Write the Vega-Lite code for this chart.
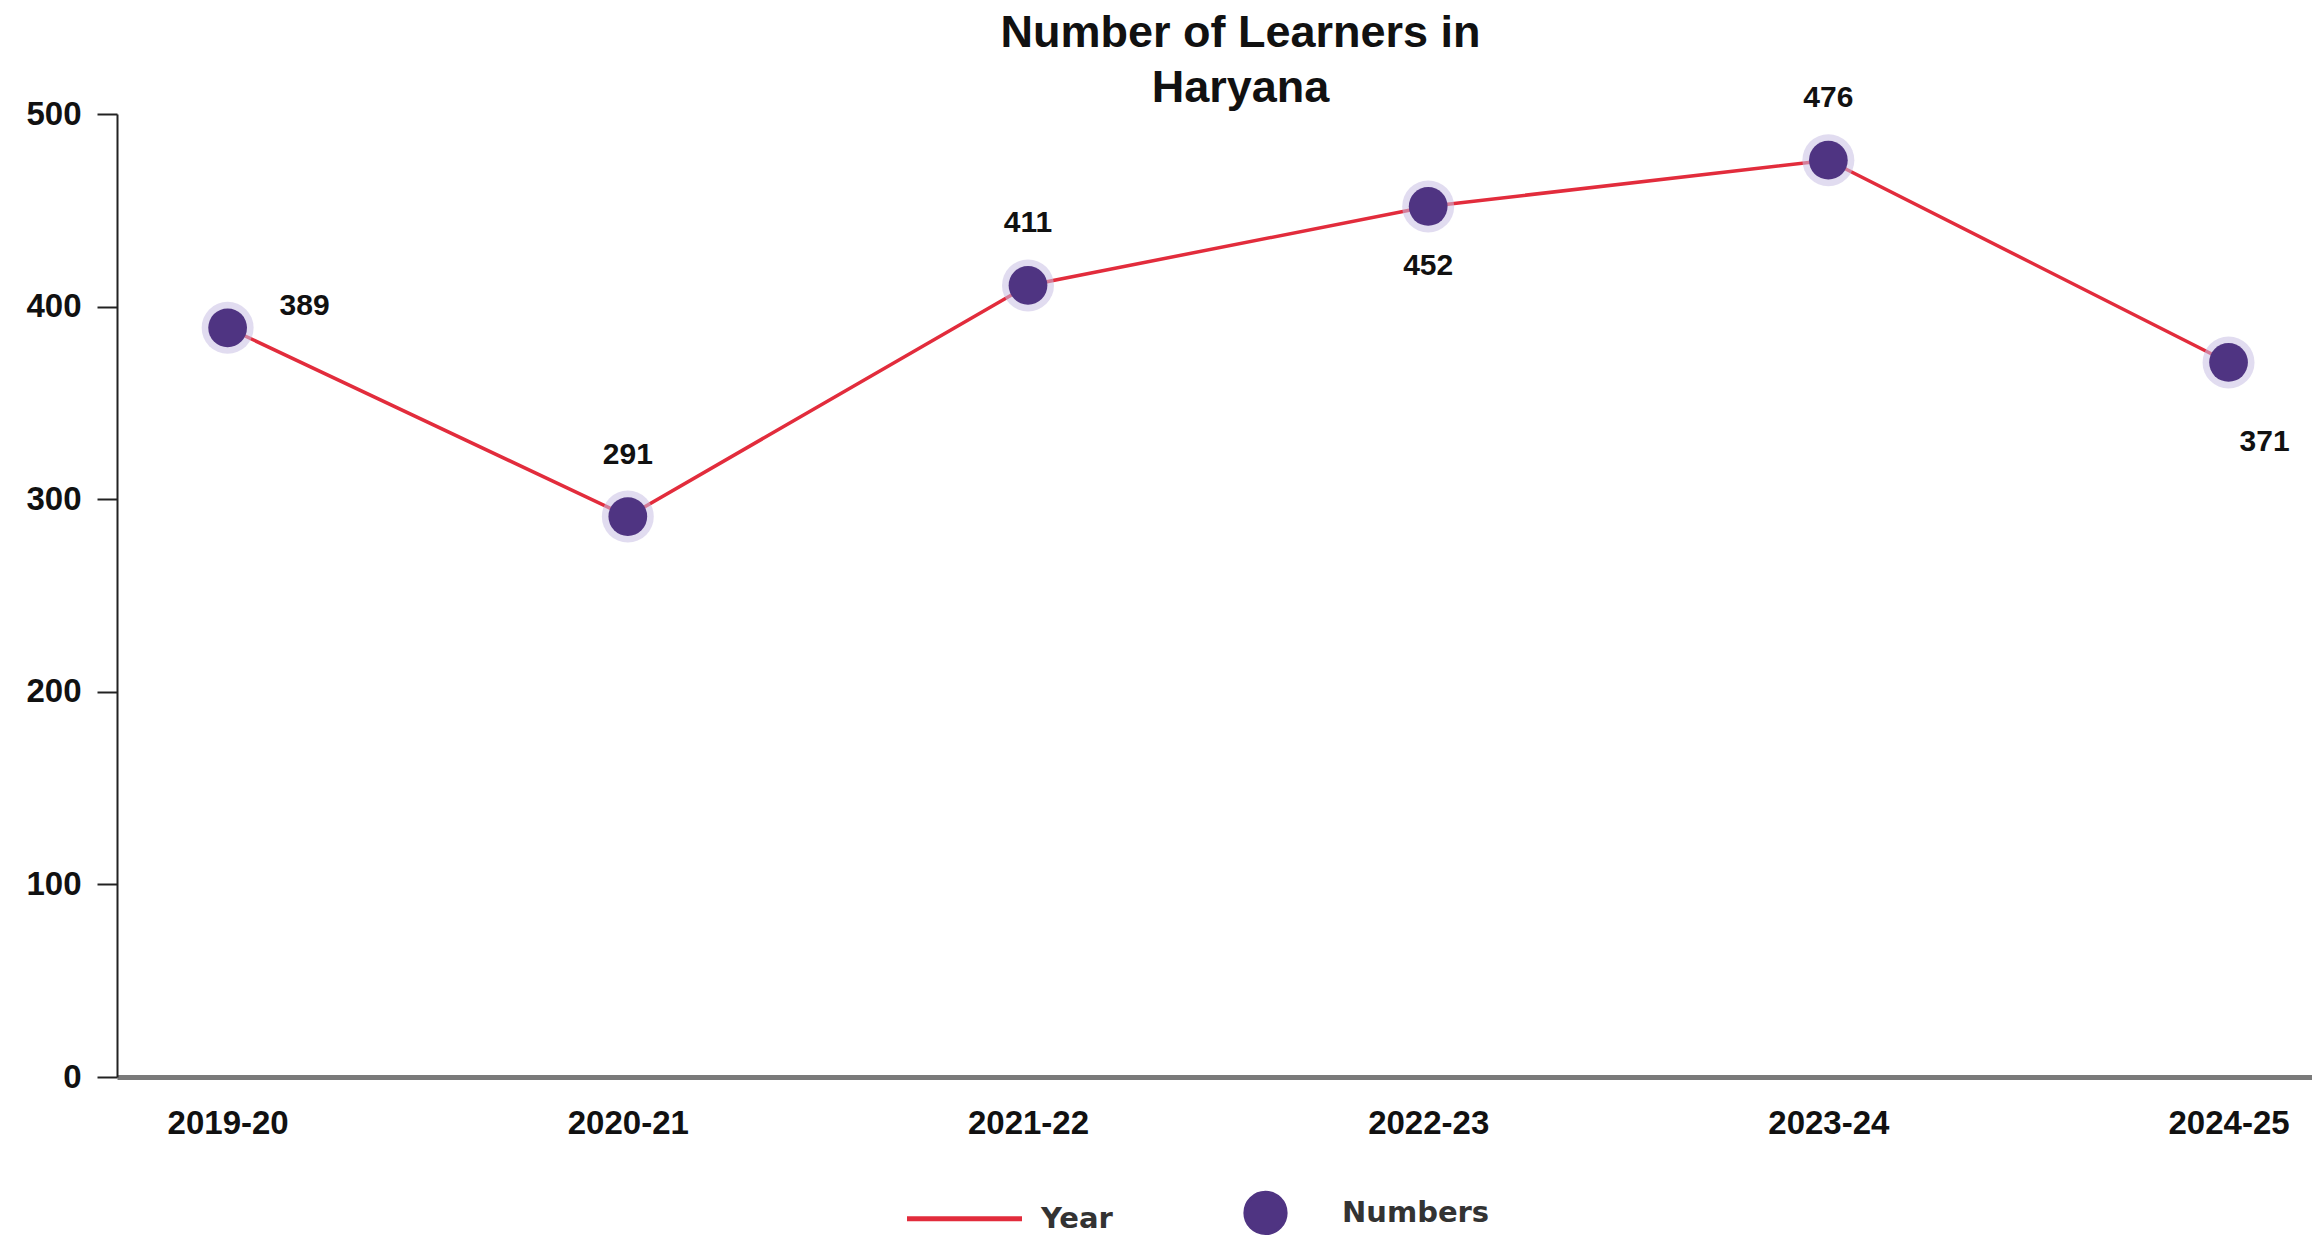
{
  "$schema": "https://vega.github.io/schema/vega-lite/v6.json",
  "width": 2195,
  "height": 963,
  "autosize": {"type": "none"},
  "padding": {"left": 117, "top": 114, "right": 0, "bottom": 162},
  "background": "white",
  "title": {
    "text": ["Number of Learners in", "Haryana"],
    "font": "Liberation Sans",
    "fontSize": 45,
    "fontWeight": "bold",
    "color": "#111111",
    "anchor": "middle",
    "lineHeight": 55,
    "dx": 26,
    "offset": -28
  },
  "config": {
    "view": {"stroke": null},
    "axis": {"labelFont": "Liberation Sans", "labelFontWeight": "bold", "labelColor": "#111111", "grid": false, "title": null}
  },
  "data": {
    "values": [
      {"year": "2019-20", "learners": 389},
      {"year": "2020-21", "learners": 291},
      {"year": "2021-22", "learners": 411},
      {"year": "2022-23", "learners": 452},
      {"year": "2023-24", "learners": 476},
      {"year": "2024-25", "learners": 371}
    ]
  },
  "encoding": {
    "x": {
      "field": "year",
      "type": "ordinal",
      "sort": null,
      "scale": {"type": "point", "padding": 0.2425, "align": 0.57},
      "axis": {
        "labelAngle": 0,
        "labelFontSize": 33,
        "labelPadding": 30,
        "ticks": false,
        "domainColor": "#7a7a7a",
        "domainWidth": 5
      }
    },
    "y": {
      "field": "learners",
      "type": "quantitative",
      "scale": {"domain": [0, 500], "nice": false},
      "axis": {
        "values": [0, 100, 200, 300, 400, 500],
        "labelFontSize": 33,
        "labelPadding": 16,
        "tickSize": 20,
        "tickWidth": 2,
        "tickColor": "#222222",
        "domainColor": "#222222",
        "domainWidth": 2
      }
    }
  },
  "layer": [
    {
      "mark": {"type": "line", "strokeWidth": 3.5},
      "encoding": {
        "color": {
          "datum": "Year",
          "scale": {"domain": ["Year", "Numbers"], "range": ["#e22c3c", "#4f3482"]},
          "legend": {
            "title": null,
            "orient": "none",
            "direction": "horizontal",
            "legendX": 833,
            "legendY": 1084,
            "labelFont": "DejaVu Sans",
            "labelFontWeight": "bold",
            "labelFontSize": 29,
            "labelColor": "#333333",
            "labelOffset": 62,
            "columnPadding": 125,
            "encode": {
              "symbols": {
                "update": {
                  "shape": {"signal": "datum.value === 'Year' ? 'stroke' : 'circle'"},
                  "size": {"signal": "datum.value === 'Year' ? 13225 : 1700"},
                  "fill": {"signal": "datum.value === 'Year' ? 'transparent' : '#4f3482'"},
                  "stroke": {"signal": "datum.value === 'Year' ? '#e22c3c' : '#cdc2e8'"},
                  "strokeWidth": {"signal": "datum.value === 'Year' ? 5 : 3"},
                  "opacity": {"value": 1},
                  "fillOpacity": {"value": 1},
                  "strokeOpacity": {"value": 1}
                }
              }
            }
          }
        }
      }
    },
    {
      "mark": {"type": "point", "filled": true, "shape": "circle", "size": 2700, "color": "#c9bfe3", "opacity": 0.55},
      "encoding": {}
    },
    {
      "mark": {"type": "point", "filled": true, "shape": "circle", "size": 1500, "opacity": 1},
      "encoding": {
        "color": {"datum": "Numbers"}
      }
    },
    {
      "transform": [{"filter": {"field": "year", "oneOf": ["2020-21", "2021-22", "2023-24"]}}],
      "mark": {"type": "text", "font": "Liberation Sans", "fontWeight": "bold", "fontSize": 30, "color": "#111111", "dy": -62},
      "encoding": {"text": {"field": "learners", "type": "quantitative"}}
    },
    {
      "transform": [{"filter": {"field": "year", "equal": "2022-23"}}],
      "mark": {"type": "text", "font": "Liberation Sans", "fontWeight": "bold", "fontSize": 30, "color": "#111111", "dy": 60},
      "encoding": {"text": {"field": "learners", "type": "quantitative"}}
    },
    {
      "transform": [{"filter": {"field": "year", "equal": "2024-25"}}],
      "mark": {"type": "text", "font": "Liberation Sans", "fontWeight": "bold", "fontSize": 30, "color": "#111111", "dy": 80, "dx": 36},
      "encoding": {"text": {"field": "learners", "type": "quantitative"}}
    },
    {
      "transform": [{"filter": {"field": "year", "equal": "2019-20"}}],
      "mark": {"type": "text", "font": "Liberation Sans", "fontWeight": "bold", "fontSize": 30, "color": "#111111", "dy": -22, "dx": 77},
      "encoding": {"text": {"field": "learners", "type": "quantitative"}}
    }
  ]
}
